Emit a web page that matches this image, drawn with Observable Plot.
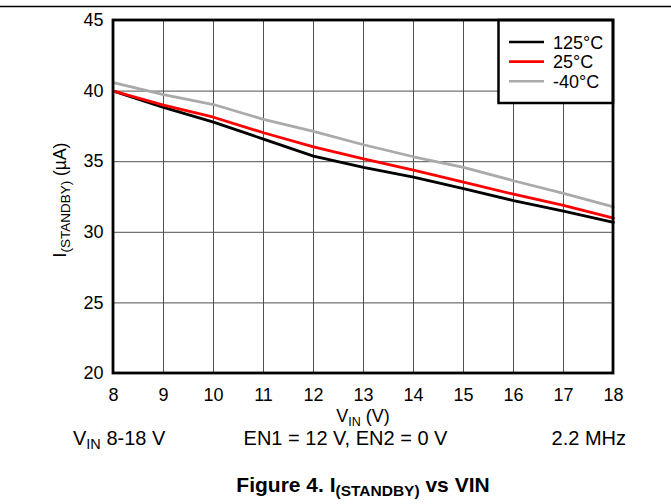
<!DOCTYPE html>
<html><head><meta charset="utf-8">
<script src="https://cdn.jsdelivr.net/npm/d3@7"></script>
<script src="https://cdn.jsdelivr.net/npm/@observablehq/plot@0.6"></script>
<style>body{margin:0;background:#fff}</style>
</head><body><div id="chart"></div>
<script>
// ---- data ----
const vin = [8, 9, 10, 11, 12, 13, 14, 15, 16, 17, 18];
const i125 = [40.0, 38.85, 37.8, 36.6, 35.4, 34.6, 33.9, 33.1, 32.25, 31.5, 30.7];
const i25 = [40.0, 39.0, 38.15, 37.05, 36.05, 35.2, 34.4, 33.55, 32.7, 31.9, 31.0];
const im40 = [40.6, 39.75, 39.05, 38.0, 37.15, 36.2, 35.35, 34.6, 33.65, 32.75, 31.8];
const seriesNames = ["125°C", "25°C", "-40°C"];
const seriesColors = ["#000000", "#ff0000", "#aaaaaa"];
const xTicks = [8, 9, 10, 11, 12, 13, 14, 15, 16, 17, 18];
const yTicks = [20, 25, 30, 35, 40, 45];

const data = [];
[i125, i25, im40].forEach((arr, k) => arr.forEach((v, i) => data.push({vin: vin[i], i: v, series: seriesNames[k]})));

const font = "Arial, 'Liberation Sans', sans-serif";

const plot = Plot.plot({
  width: 671, height: 504,
  marginLeft: 113, marginRight: 58, marginTop: 20, marginBottom: 131,
  style: {fontFamily: font, background: "#fff", color: "#000"},
  x: {domain: [8, 18], ticks: xTicks},
  y: {domain: [20, 45], ticks: yTicks},
  color: {domain: seriesNames, range: seriesColors},
  marks: [
    Plot.gridX(xTicks, {stroke: "#505050", strokeOpacity: 1, strokeWidth: 1}),
    Plot.gridY(yTicks, {stroke: "#505050", strokeOpacity: 1, strokeWidth: 1}),
    Plot.line(data, {x: "vin", y: "i", z: "series", stroke: "series", strokeWidth: 2.8}),
    Plot.axisX(xTicks, {tickSize: 0, tickPadding: 15, fontSize: 18, label: null, fill: "#000"}),
    Plot.axisY(yTicks, {tickSize: 0, tickPadding: 10, fontSize: 18, label: null, fill: "#000"})
  ]
});

const svg = d3.select(plot);
const x = plot.scale("x"), y = plot.scale("y");
const x0 = x.range[0], x1 = x.range[1], y0 = y.range[0], y1 = y.range[1];

// legend box
const lg = svg.append("g").attr("font-family", font).attr("text-anchor", "start");
lg.append("rect").attr("x", 498.5).attr("y", y1).attr("width", x1 - 498.5).attr("height", 103 - y1)
  .attr("fill", "#fff").attr("stroke", "#000").attr("stroke-width", 2.5);
seriesNames.forEach((n, k) => {
  const yy = 42 + k * 19.6;
  lg.append("line").attr("x1", 509).attr("x2", 544).attr("y1", yy).attr("y2", yy)
    .attr("stroke", seriesColors[k]).attr("stroke-width", 2.6);
  lg.append("text").attr("x", 553).attr("y", yy + 6.5).attr("text-anchor", "start")
    .attr("font-size", 18).attr("fill", "#000").text(n);
});

// frame on top
svg.append("rect").attr("x", x0).attr("y", y1).attr("width", x1 - x0).attr("height", y0 - y1)
  .attr("fill", "none").attr("stroke", "#000").attr("stroke-width", 2.8);

// top rule
svg.append("line").attr("x1", 0).attr("x2", 671).attr("y1", 6.5).attr("y2", 6.5)
  .attr("stroke", "#000").attr("stroke-width", 1.5);

function subText(g, parts) {
  parts.forEach(p => {
    const t = g.append("tspan").text(p.t);
    if (p.size) t.attr("font-size", p.size);
    if (p.dy) t.attr("dy", p.dy);
  });
}

// x axis label
const xl = svg.append("text").attr("x", (x0 + x1) / 2).attr("y", 421.5).attr("text-anchor", "middle")
  .attr("font-family", font).attr("font-size", 18).attr("fill", "#000");
subText(xl, [{t: "V"}, {t: "IN", size: 12.5, dy: 4}, {t: " (V)", dy: -4}]);

// y axis label
const yl = svg.append("text").attr("transform", "translate(65.5,200) rotate(-90)").attr("text-anchor", "middle")
  .attr("font-family", font).attr("font-size", 17.5).attr("fill", "#000");
subText(yl, [{t: "I"}, {t: "(STANDBY)", size: 13.5, dy: 4}, {t: " (µA)", dy: -4}]);

// conditions line
const c1 = svg.append("text").attr("x", 73).attr("y", 445).attr("text-anchor", "start")
  .attr("font-family", font).attr("font-size", 20).attr("fill", "#000");
subText(c1, [{t: "V"}, {t: "IN", size: 14.5, dy: 4}, {t: " 8-18 V", dy: -4}]);
svg.append("text").attr("x", 345.5).attr("y", 445).attr("text-anchor", "middle").attr("font-family", font)
  .attr("font-size", 20).attr("fill", "#000").text("EN1 = 12 V, EN2 = 0 V");
svg.append("text").attr("x", 626).attr("y", 445).attr("text-anchor", "end").attr("font-family", font)
  .attr("font-size", 20).attr("fill", "#000").text("2.2 MHz");

// caption
const cap = svg.append("text").attr("x", 363).attr("y", 491.5).attr("text-anchor", "middle")
  .attr("font-family", font).attr("font-size", 21).attr("font-weight", "bold").attr("fill", "#000");
subText(cap, [{t: "Figure 4. I"}, {t: "(STANDBY)", size: 15.5, dy: 4}, {t: " vs VIN", dy: -4}]);

document.getElementById("chart").appendChild(plot);
</script>
</body></html>
